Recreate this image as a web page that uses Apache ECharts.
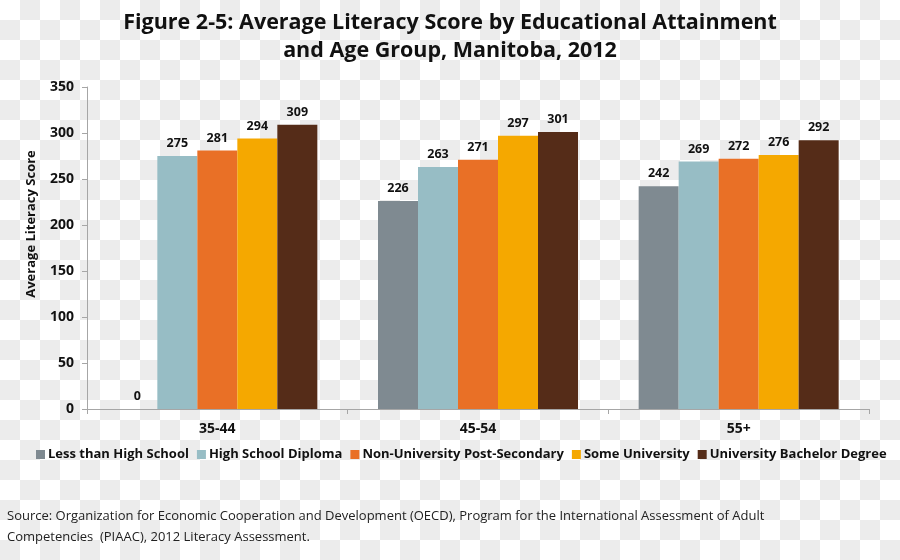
<!DOCTYPE html>
<html>
<head>
<meta charset="utf-8">
<script src="https://cdn.jsdelivr.net/npm/echarts@6/dist/echarts.min.js"></script>
<style>
html,body{margin:0;padding:0;}
body{width:900px;height:560px;background:repeating-conic-gradient(#ececec 0 25%, #ffffff 0 50%) 0 0/40px 40px;}
#c{width:900px;height:560px;}
</style>
</head>
<body>
<div id="c"></div>
<script>
const categories = ['35-44', '45-54', '55+'];
const seriesNames = ['Less than High School', 'High School Diploma', 'Non-University Post-Secondary', 'Some University', 'University Bachelor Degree'];
const lessThanHS = [0, 226, 242];
const hsDiploma = [275, 263, 269];
const nonUniPost = [281, 271, 272];
const someUni = [294, 297, 276];
const bachelor = [309, 301, 292];
const yTicks = [0, 50, 100, 150, 200, 250, 300, 350];
const colors = ['#7f8a91', '#97bdc5', '#e97026', '#f5a800', '#552c18'];
const values = [lessThanHS, hsDiploma, nonUniPost, someUni, bachelor];

const FONT = '"Open Sans", "Noto Sans", sans-serif';
const chart = echarts.init(document.getElementById('c'), null, {renderer: 'canvas'});
chart.setOption({
  backgroundColor: 'transparent',
  animation: false,
  textStyle: {fontFamily: FONT},
  title: {
    text: 'Figure 2-5: Average Literacy Score by Educational Attainment\nand Age Group, Manitoba, 2012',
    left: 'center', top: 4,
    textStyle: {fontFamily: FONT, fontSize: 21.5, fontWeight: 'bold', color: '#111', lineHeight: 28}
  },
  legend: {
    data: seriesNames,
    top: 443, left: 31,
    itemWidth: 9, itemHeight: 9, itemGap: 8,
    icon: 'rect',
    textStyle: {fontFamily: FONT, fontSize: 13, fontWeight: 'bold', color: '#111', padding: [0, 0, 0, -2]}
  },
  grid: {left: 87, right: 31, top: 87, bottom: 151, containLabel: false},
  xAxis: {
    type: 'category', data: categories,
    axisLine: {lineStyle: {color: '#a6a6a6', width: 1}},
    axisTick: {show: true, length: 5, lineStyle: {color: '#a6a6a6'}},
    axisLabel: {fontFamily: FONT, fontSize: 14, fontWeight: 'bold', color: '#111', margin: 13}
  },
  yAxis: {
    type: 'value', min: 0, max: 350, interval: 50,
    axisLine: {show: true, lineStyle: {color: '#a6a6a6', width: 1}},
    axisTick: {show: true, length: 5, lineStyle: {color: '#a6a6a6'}},
    splitLine: {show: false},
    axisLabel: {fontFamily: FONT, fontSize: 14, fontWeight: 'bold', color: '#111', margin: 13,
      formatter: v => yTicks.includes(v) ? String(v) : ''}
  },
  graphic: [
    {type: 'text', x: 31, y: 224, rotation: Math.PI / 2,
     style: {text: 'Average Literacy Score', fontFamily: FONT, fontSize: 13, fontWeight: 'bold', fill: '#111', align: 'center', verticalAlign: 'middle'}},
    {type: 'text', left: 7, top: 506,
     style: {text: 'Source: Organization for Economic Cooperation and Development (OECD), Program for the International Assessment of Adult\nCompetencies  (PIAAC), 2012 Literacy Assessment.',
       fontFamily: FONT, fontSize: 13, fill: '#222', lineHeight: 21}}
  ],
  series: seriesNames.map((n, i) => ({
    name: n, type: 'bar', data: values[i],
    barWidth: 40, barGap: '0%',
    itemStyle: {color: colors[i]},
    label: {show: true, position: 'top', distance: 6, fontFamily: FONT, fontSize: 12.5, fontWeight: 'bold', color: '#111'}
  }))
});
</script>
</body>
</html>
